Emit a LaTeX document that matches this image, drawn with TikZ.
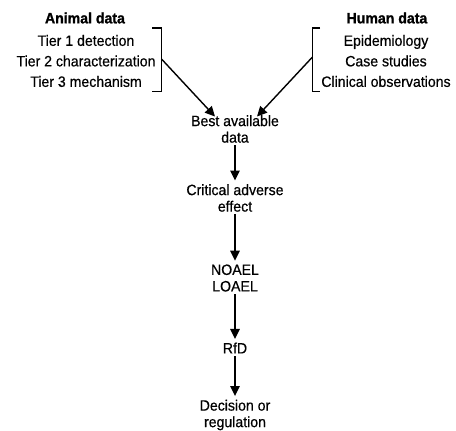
\documentclass[tikz,border=0pt]{standalone}
\usepackage{fontspec}
\setmainfont{Liberation Sans}[FakeStretch=0.94,
    UprightFeatures={FakeBold=0.5}, BoldFeatures={FakeBold=1.2}]
\usetikzlibrary{arrows.meta}

\begin{document}
\begin{tikzpicture}[x=1pt, y=-1pt, line width=1.4pt,
    every node/.style={align=center, inner sep=0pt, font=\fontsize{15}{16.5}\selectfont},
    tierlist/.style={font=\fontsize{15}{20.5}\selectfont},
    flow/.style={-{Triangle[length=10pt, width=9.5pt]}, shorten <=2pt, shorten >=3pt}]
    \useasboundingbox (0,0) rectangle (456,431);
    % sources
    \node (animalhead) at (85,18) {\textbf{Animal data}};
    \node [tierlist] (animal) at (86,61) {Tier 1 detection\\Tier 2 characterization\\Tier 3 mechanism};
    \node (humanhead) at (387,18) {\textbf{Human data}};
    \node [tierlist] (human) at (386,61) {Epidemiology\\Case studies\\Clinical observations};
    % brackets
    \draw (152,28) -- (161.5,28) -- (161.5,91.5) -- (152,91.5);
    \draw (320,28) -- (312.5,28) -- (312.5,91.5) -- (320,91.5);
    \coordinate (animalout) at (161.5,59);
    \coordinate (humanout) at (312.5,57);
    % chain
    \node (best) at (235,129) {Best available\\data};
    \node (critical) at (235,198) {Critical adverse\\effect};
    \node (limits) at (235,278) {NOAEL\\LOAEL};
    \node (rfd) at (235,348) {RfD};
    \node (decision) at (235,415) {Decision or\\regulation};
    \draw [flow, shorten <=0pt, shorten >=0pt] (animalout) -- ([xshift=-20pt, yshift=-2pt]best.north);
    \draw [flow, shorten <=0pt, shorten >=0pt] (humanout) -- ([xshift=22pt, yshift=-2pt]best.north);
    \draw [flow] (best) -- (critical);
    \draw [flow] (critical) -- (limits);
    \draw [flow] (limits) -- (rfd);
    \draw [flow] (rfd) -- (decision);
\end{tikzpicture}
\end{document}
